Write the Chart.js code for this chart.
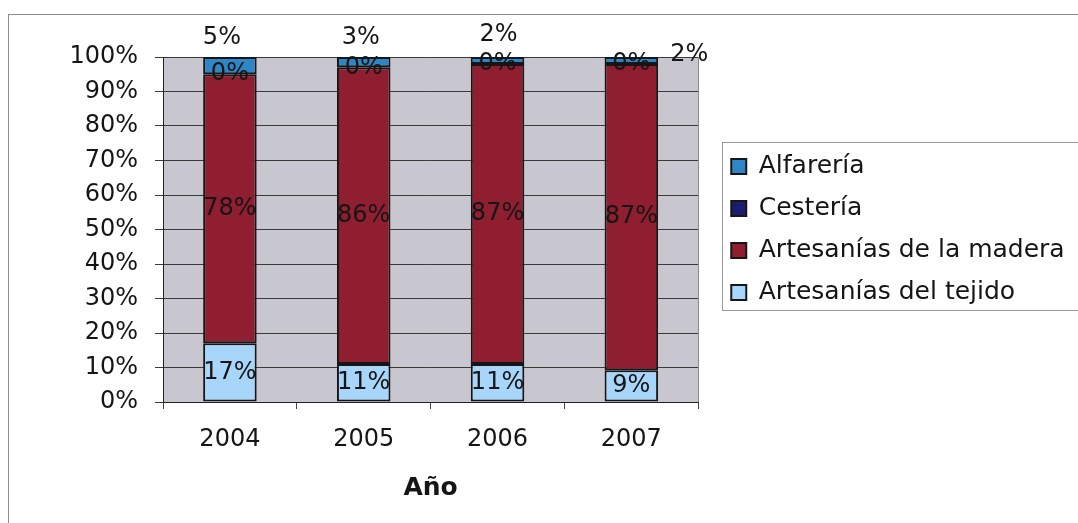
<!DOCTYPE html>
<html>
<head>
<meta charset="utf-8">
<title>Artesanías por año</title>
<script src="https://cdn.jsdelivr.net/npm/chart.js@4.4.1/dist/chart.umd.min.js"></script>
<style>
html, body { margin: 0; padding: 0; background: #fff; }
</style>
</head>
<body>
<canvas id="graficoArtesanias" width="1078" height="523"></canvas>
<script>
// datos por año (porcentajes del total de cada año)
var anos = ['2004', '2005', '2006', '2007'];
var tejido = [17, 11, 11, 9];
var madera = [78, 86, 87, 87];
var cesteria = [0, 0, 0, 0];
var alfareria = [5, 3, 2, 2];
var marcasY = [0, 10, 20, 30, 40, 50, 60, 70, 80, 90, 100];

var fuente = "'DejaVu Sans', sans-serif";
var colorTexto = '#151515';

// cada columna se lleva al 100%
var totales = anos.map(function (a, i) {
    return tejido[i] + madera[i] + cesteria[i] + alfareria[i];
});
function alCien(serie) {
    return serie.map(function (v, i) { return v / totales[i] * 100; });
}

function serie(nombre, valores, color) {
    return {
        label: nombre,
        data: alCien(valores),
        valores: valores,
        backgroundColor: color,
        borderColor: '#161616',
        borderWidth: 2,
        borderSkipped: false,
        categoryPercentage: 1,
        barPercentage: 0.4
    };
}

// etiquetas de alfarería movidas fuera de la barra
var desplazamientoAlfareria = [[-8, -19], [-3, -19], [1, -22], [58, -2]];

var fondoGrafico = {
    id: 'fondoGrafico',
    beforeDraw: function (chart) {
        var ctx = chart.ctx, a = chart.chartArea;
        ctx.save();
        ctx.fillStyle = '#fff';
        ctx.fillRect(0, 0, chart.width, chart.height);
        ctx.fillStyle = '#c8c6cf';
        ctx.fillRect(a.left, a.top, a.right - a.left, a.bottom - a.top);
        ctx.restore();
    },
    beforeDatasetsDraw: function (chart) {
        var ctx = chart.ctx, a = chart.chartArea;
        ctx.save();
        ctx.strokeStyle = '#8a8a8a';
        ctx.lineWidth = 1;
        ctx.beginPath();
        ctx.moveTo(Math.round(a.right) + 0.5, a.top);
        ctx.lineTo(Math.round(a.right) + 0.5, a.bottom);
        ctx.stroke();
        ctx.restore();
    },
    afterLayout: function (chart) {
        // separa la leyenda del área de trazado y la deja llegar al borde
        var lg = chart.legend;
        lg.left += 16;
        lg.right = chart.width + 40;
        lg.width = lg.right - lg.left;
    },
    afterDraw: function (chart) {
        var ctx = chart.ctx, lg = chart.legend;
        ctx.save();
        ctx.strokeStyle = '#8c8c8c';
        ctx.lineWidth = 1;
        ctx.strokeRect(8.5, 14.5, 1200, 700);
        var pad = lg.options.labels.padding;
        var alto = lg.columnSizes[0].height;
        var y0 = (lg.top + pad + lg.bottom - alto) / 2;
        ctx.strokeStyle = '#9a9a9a';
        ctx.strokeRect(Math.round(lg.left + 8) + 0.5, Math.round(y0 - 12) + 0.5, 600, alto);
        ctx.restore();
    }
};

var etiquetasValor = {
    id: 'etiquetasValor',
    afterDatasetsDraw: function (chart) {
        var ctx = chart.ctx;
        ctx.save();
        ctx.font = '24px ' + fuente;
        ctx.fillStyle = colorTexto;
        ctx.textAlign = 'center';
        ctx.textBaseline = 'middle';
        chart.data.datasets.forEach(function (ds, d) {
            chart.getDatasetMeta(d).data.forEach(function (barra, i) {
                var texto = ds.valores[i] + '%';
                var x = barra.x;
                var y = (barra.y + barra.base) / 2;
                if (ds.label === 'Alfarería') {
                    x = barra.x + desplazamientoAlfareria[i][0];
                    y = barra.y + desplazamientoAlfareria[i][1];
                }
                ctx.fillText(texto, x, y);
            });
        });
        ctx.restore();
    }
};

new Chart(document.getElementById('graficoArtesanias').getContext('2d'), {
    type: 'bar',
    data: {
        labels: anos,
        datasets: [
            serie('Artesanías del tejido', tejido, '#a7d6fa'),
            serie('Artesanías de la madera', madera, '#8e1e30'),
            serie('Cestería', cesteria, '#1b1d6e'),
            serie('Alfarería', alfareria, '#2f86c6')
        ]
    },
    options: {
        responsive: false,
        animation: false,
        layout: { padding: { top: 57, right: 147, bottom: 0, left: 0 } },
        plugins: {
            legend: {
                position: 'right',
                align: 'center',
                fullSize: false,
                reverse: true,
                labels: {
                    font: { family: fuente, size: 25 },
                    color: colorTexto,
                    boxWidth: 15,
                    boxHeight: 15,
                    padding: 17
                }
            },
            tooltip: { enabled: false }
        },
        scales: {
            x: {
                stacked: true,
                grid: { offset: true, drawOnChartArea: false, color: '#444', tickLength: 7 },
                border: { color: '#222', width: 1 },
                ticks: { font: { family: fuente, size: 24 }, color: colorTexto, padding: 16 },
                title: {
                    display: true,
                    text: 'Año',
                    font: { family: fuente, size: 25, weight: 'bold' },
                    color: colorTexto,
                    padding: { top: 10, bottom: 20 }
                },
                afterFit: function (s) { s.height = 121; }
            },
            y: {
                stacked: true,
                min: 0,
                max: 100,
                afterBuildTicks: function (s) {
                    s.ticks = marcasY.map(function (v) { return { value: v }; });
                },
                ticks: {
                    font: { family: fuente, size: 24 },
                    color: colorTexto,
                    padding: 17,
                    callback: function (v) { return v + '%'; }
                },
                grid: { color: '#3a3a3a', tickLength: 8 },
                border: { color: '#222', width: 1 },
                afterFit: function (s) { s.width = 163; }
            }
        }
    },
    plugins: [fondoGrafico, etiquetasValor]
});
</script>
</body>
</html>
